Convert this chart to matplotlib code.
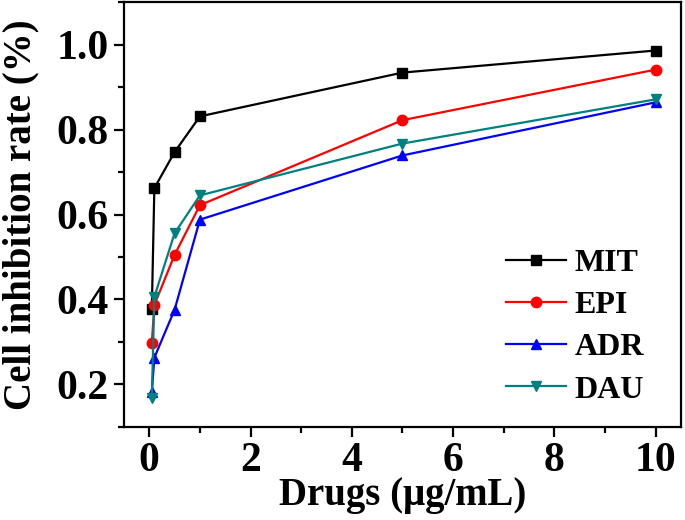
import matplotlib
matplotlib.use("Agg")
import matplotlib.pyplot as plt
from matplotlib.ticker import MultipleLocator

plt.rcParams['font.family'] = ['Liberation Serif', 'DejaVu Serif']
plt.rcParams['font.weight'] = 'bold'
plt.rcParams['mathtext.default'] = 'regular'

conc = [0.05, 0.1, 0.5, 1, 5, 10]
mit = [0.378, 0.662, 0.747, 0.831, 0.934, 0.986]
epi = [0.298, 0.387, 0.505, 0.622, 0.822, 0.941]
adr = [0.183, 0.263, 0.376, 0.588, 0.739, 0.864]
dau = [0.167, 0.406, 0.556, 0.645, 0.767, 0.871]

series = [
    ("MIT", mit, "black", "s"),
    ("EPI", epi, "red", "o"),
    ("ADR", adr, "blue", "^"),
    ("DAU", dau, "#008080", "v"),
]

fig = plt.figure(figsize=(6.85, 5.2), dpi=100)
ax = fig.add_axes([0.181, 0.179, 0.813, 0.817])

for name, vals, col, mk in series:
    ax.plot(conc, vals, color=col, marker=mk, markersize=7.5, linewidth=1.6, label=name)

ax.set_xlim(-0.5, 10.5)
ax.set_ylim(0.1, 1.1)
ax.xaxis.set_major_locator(MultipleLocator(2))
ax.xaxis.set_minor_locator(MultipleLocator(1))
ax.yaxis.set_major_locator(MultipleLocator(0.2))
ax.yaxis.set_minor_locator(MultipleLocator(0.1))
ax.set_yticks([0.2, 0.4, 0.6, 0.8, 1.0])

for s in ax.spines.values():
    s.set_linewidth(1.6)
ax.tick_params(which='major', direction='out', length=7, width=1.6, labelsize=30, pad=4)
ax.tick_params(which='minor', direction='out', length=4, width=1.6)
for lab in ax.get_xticklabels() + ax.get_yticklabels():
    lab.set_fontweight('bold')

ax.set_xlabel("Drugs (μg/mL)", fontsize=28, fontweight='bold', labelpad=-2)
ax.set_ylabel("Cell inhibition rate (%)", fontsize=28, fontweight='bold', labelpad=12)

leg = ax.legend(loc='lower right', frameon=False, fontsize=23, handlelength=1.9,
                labelspacing=0.4, handletextpad=0.25, bbox_to_anchor=(0.985, -0.015))
for t in leg.get_texts():
    t.set_fontweight('bold')

fig.savefig("out.png", dpi=100)
